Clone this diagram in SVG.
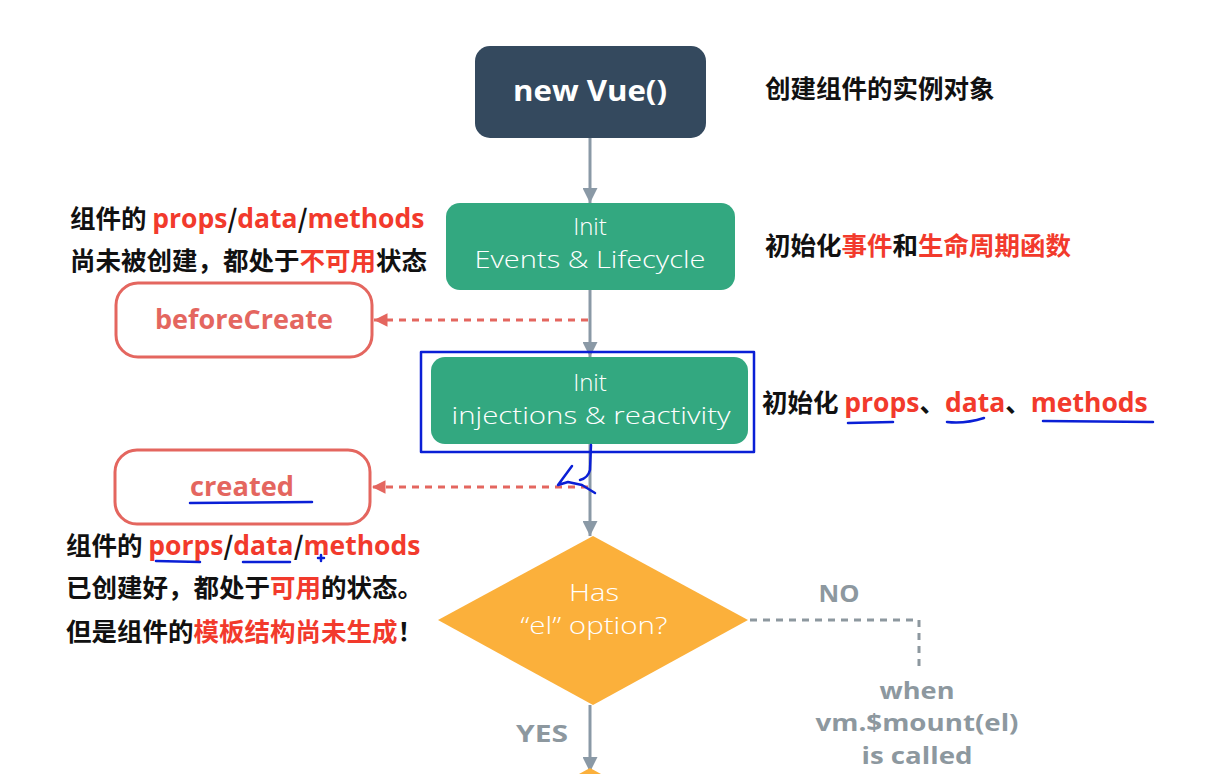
<svg xmlns="http://www.w3.org/2000/svg" width="1222" height="774" viewBox="0 0 1222 774">
<defs>
<style>
.zh{font-family:"Noto Sans CJK SC","Open Sans",sans-serif;font-weight:700;font-size:25.5px;fill:#111}
.r{fill:#f23a2c;font-family:"Open Sans","Noto Sans CJK SC",sans-serif;font-size:26.5px}
.rz{fill:#f23a2c}
.node-t{font-family:"Open Sans","Noto Sans",sans-serif;font-weight:300;font-size:24px;fill:#fff;text-anchor:middle}
.hook{fill:#fff;stroke:#e4665f;stroke-width:3}
.hook-t{font-family:"Open Sans","Noto Sans",sans-serif;font-weight:700;font-size:26px;fill:#e4665f;text-anchor:middle}
.gray-t{font-family:"Open Sans","Noto Sans",sans-serif;font-weight:700;font-size:24px;fill:#8d989f;text-anchor:middle}
.solid{stroke:#8a99a6;stroke-width:3;fill:none}
.dash{stroke:#e4665f;stroke-width:3;stroke-dasharray:7 6;fill:none}
.gdash{stroke:#8d989f;stroke-width:3;stroke-dasharray:7 6;fill:none}
.pen{stroke:#0a1fd6;stroke-width:2.5;fill:none;stroke-linecap:round;stroke-linejoin:round}
</style>
<marker id="ag" viewBox="0 0 10 10" refX="10" refY="5" markerWidth="5" markerHeight="5" orient="auto" markerUnits="strokeWidth"><path d="M0,0 L10,5 L0,10 z" fill="#8a99a6"/></marker>
<marker id="ar" viewBox="0 0 10 10" refX="10" refY="5" markerWidth="4.5" markerHeight="4.5" orient="auto" markerUnits="strokeWidth"><path d="M0,0 L10,5 L0,10 z" fill="#e4665f"/></marker>
</defs>
<rect width="1222" height="774" fill="#fff"/>

<g id="connectors">
<line class="solid" x1="590" y1="138" x2="590" y2="203" marker-end="url(#ag)"/>
<line class="solid" x1="590" y1="290" x2="590" y2="357" marker-end="url(#ag)"/>
<line class="solid" x1="590" y1="444" x2="590" y2="536" marker-end="url(#ag)"/>
<line class="solid" x1="590" y1="705" x2="590" y2="772" marker-end="url(#ag)"/>
<line class="dash" x1="588" y1="320" x2="374" y2="320" marker-end="url(#ar)"/>
<line class="dash" x1="588" y1="487" x2="372" y2="487" marker-end="url(#ar)"/>
<polyline class="gdash" points="750,620 919,620 919,668"/>
</g>

<g id="new-vue">
<rect x="475" y="46" width="231" height="92" rx="15" fill="#34495e"/>
<text x="590" y="101" text-anchor="middle" font-family="'Open Sans','Noto Sans',sans-serif" font-weight="700" font-size="29" fill="#fff" textLength="154" lengthAdjust="spacingAndGlyphs">new Vue()</text>
</g>

<g id="init-events">
<rect x="446" y="203" width="289" height="87" rx="14" fill="#33a880"/>
<text class="node-t" x="590" y="235">Init</text>
<text class="node-t" x="590" y="268" textLength="231" lengthAdjust="spacingAndGlyphs">Events &amp; Lifecycle</text>
</g>

<g id="before-create">
<rect class="hook" x="116" y="283" width="256" height="74" rx="22"/>
<text class="hook-t" x="244" y="329" textLength="178" lengthAdjust="spacingAndGlyphs">beforeCreate</text>
</g>

<g id="init-injections">
<rect x="431" y="357" width="317" height="87" rx="14" fill="#33a880"/>
<text class="node-t" x="590" y="391">Init</text>
<text class="node-t" x="591" y="424" textLength="279" lengthAdjust="spacingAndGlyphs">injections &amp; reactivity</text>
</g>

<g id="created">
<rect class="hook" x="115" y="450" width="255" height="74" rx="22"/>
<text class="hook-t" x="242" y="496" textLength="104" lengthAdjust="spacingAndGlyphs">created</text>
</g>

<g id="has-el">
<polygon points="593,536 748,620 593,705 438,620" fill="#fbb03b"/>
<text class="node-t" x="594" y="601" textLength="50" lengthAdjust="spacingAndGlyphs">Has</text>
<text class="node-t" x="594" y="634" textLength="147" lengthAdjust="spacingAndGlyphs">“el” option?</text>
</g>

<g id="next-diamond">
<polygon points="590,768 612,780 568,780" fill="#fbb03b"/>
</g>

<g id="labels">
<text class="gray-t" x="839" y="602" textLength="41" lengthAdjust="spacingAndGlyphs">NO</text>
<text class="gray-t" x="542" y="742" textLength="52" lengthAdjust="spacingAndGlyphs">YES</text>
<text class="gray-t" x="917" y="699" textLength="75" lengthAdjust="spacingAndGlyphs">when</text>
<text class="gray-t" x="917" y="731" textLength="203" lengthAdjust="spacingAndGlyphs">vm.$mount(el)</text>
<text class="gray-t" x="917" y="764" textLength="111" lengthAdjust="spacingAndGlyphs">is called</text>
</g>

<g id="notes">
<text class="zh" x="765" y="98">创建组件的实例对象</text>
<text class="zh" x="765" y="255">初始化<tspan class="rz">事件</tspan>和<tspan class="rz">生命周期函数</tspan></text>
<text class="zh" x="762" y="412">初始化 <tspan class="r">props</tspan>、<tspan class="r">data</tspan>、<tspan class="r">methods</tspan></text>
<text class="zh" x="70" y="228">组件的 <tspan class="r">props</tspan>/<tspan class="r">data</tspan>/<tspan class="r">methods</tspan></text>
<text class="zh" x="70" y="270">尚未被创建，都处于<tspan class="rz">不可用</tspan>状态</text>
<text class="zh" x="66" y="555">组件的 <tspan class="r">porps</tspan>/<tspan class="r">data</tspan>/<tspan class="r">methods</tspan></text>
<text class="zh" x="66" y="597">已创建好，都处于<tspan class="rz">可用</tspan>的状态。</text>
<text class="zh" x="66" y="641">但是组件的<tspan class="rz">模板结构尚未生成</tspan>！</text>
</g>

<g id="annotations">
<rect class="pen" x="421" y="352" width="333" height="100"/>
<path class="pen" d="M848,423 L893,422"/>
<path class="pen" d="M947,422 Q965,424 984,418"/>
<path class="pen" d="M1043,421 L1153,422"/>
<path class="pen" d="M190,503 L312,502"/>
<path class="pen" d="M156,561 L200,562"/>
<path class="pen" d="M243,562 L290,562"/>
<path class="pen" d="M318,558 L324,558 M321,555 L321,561" stroke-width="1.5"/>
<path class="pen" d="M591,445 L590,470 Q588,478 580,480 M572,466 L558,485 L568,482 L582,485 L595,493" stroke-width="3"/>
</g>
</svg>
